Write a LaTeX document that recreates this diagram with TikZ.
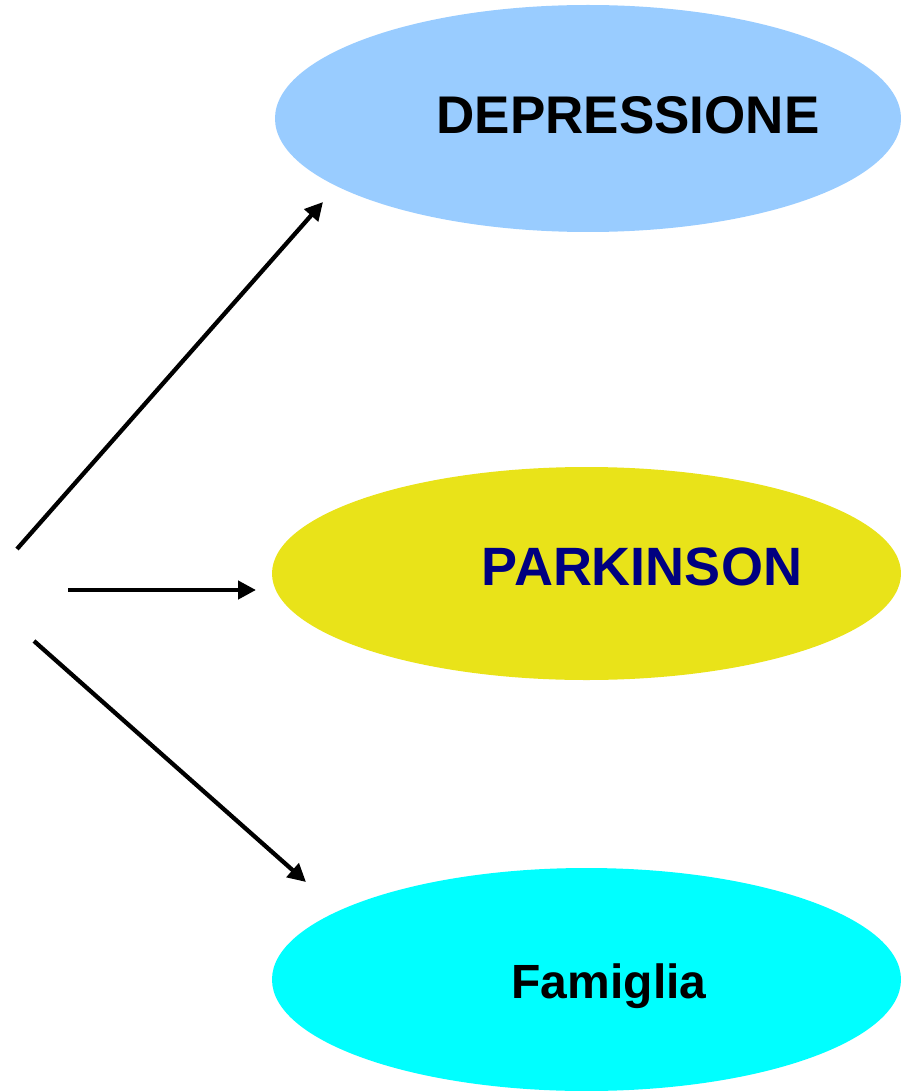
\documentclass[tikz,border=0pt]{standalone}
\usepackage{fontspec}
\setmainfont{Liberation Sans}
\usetikzlibrary{arrows.meta,shapes.geometric}
\definecolor{deplight}{HTML}{99CCFF}
\definecolor{parkyellow}{HTML}{E9E319}
\definecolor{famcyan}{HTML}{00FFFF}
\definecolor{parknavy}{HTML}{000080}
\begin{document}
\begin{tikzpicture}[x=1pt,y=-1pt,
	blob/.style={ellipse, draw=none, inner sep=0pt},
	word/.style={font=\bfseries\fontsize{53}{53}\selectfont, inner sep=0pt, anchor=base},
	link/.style={line width=4.3pt, -{Triangle[length=18pt,width=18pt]}}]
			\useasboundingbox (0,0) rectangle (901,1091);
			% ellipses
			\node[blob, fill=deplight, minimum width=626pt, minimum height=227pt] (dep) at (588,118.5) {};
			\node[blob, fill=parkyellow, minimum width=629pt, minimum height=213pt] (park) at (586.5,573.5) {};
			\node[blob, fill=famcyan, minimum width=629pt, minimum height=223pt] (fam) at (586.5,979.5) {};
			% labels
			\node[word] (deptext) at (628,134) {DEPRESSIONE};
			\node[word, text=parknavy, font=\bfseries\fontsize{54}{54}\selectfont] (parktext) at (642,585) {PARKINSON};
			\node[word, font=\bfseries\fontsize{48}{48}\selectfont] (famtext) at (609,998) {Famiglia};
			% arrow ends
			\coordinate (src1) at (17,549);
			\coordinate (src2) at (68,590);
			\coordinate (src3) at (34,641);
			\coordinate (tip1) at (323,202);
			\coordinate (tip2) at (256,590);
			\coordinate (tip3) at (306,882);
			% arrows
			\draw [link] (src1) -- (tip1) ;
			\draw [link] (src2) -- (tip2) ;
			\draw [link] (src3) -- (tip3) ;
		\end{tikzpicture}
\end{document}
